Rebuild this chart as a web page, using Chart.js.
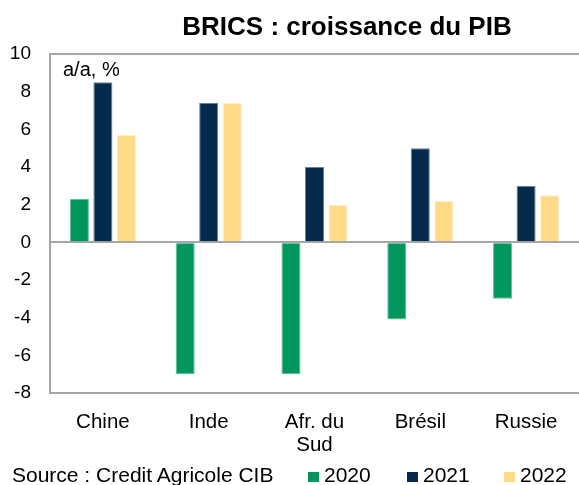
<!DOCTYPE html>
<html>
<head>
<meta charset="utf-8">
<script src="https://cdn.jsdelivr.net/npm/chart.js@4"></script>
<style>
  body { margin: 0; background: #fff; font-family: "Liberation Sans", Arial, sans-serif; }
  #wrap { position: relative; width: 579px; height: 485px; overflow: hidden; }
  #title { position: absolute; left: 347px; top: 13px; transform: translateX(-50%); white-space: nowrap;
           font-size: 26px; font-weight: bold; line-height: 1; color: #000; }
  #unit { position: absolute; left: 63px; top: 59px; font-size: 20px; line-height: 1; color: #000; }
  #source { position: absolute; left: 12px; top: 464px; font-size: 21px; line-height: 1; color: #000; white-space: nowrap; }
  .leg { position: absolute; top: 464px; font-size: 21px; line-height: 1; color: #000; white-space: nowrap; }
  .leg i { position: absolute; left: -16px; top: 8px; width: 11px; height: 10px; }
</style>
</head>
<body>
<div id="wrap">
  <canvas id="chart" width="579" height="485"></canvas>
  <div id="title">BRICS : croissance du PIB</div>
  <div id="unit">a/a, %</div>
  <div id="source">Source : Credit Agricole CIB</div>
  <div id="legend"></div>
</div>
<script>
const categories = ["Chine", "Inde", ["Afr. du", "Sud"], "Brésil", "Russie"];
const years = ["2020", "2021", "2022"];
const growth2020 = [2.3, -7.0, -7.0, -4.1, -3.0];
const growth2021 = [8.5, 7.4, 4.0, 5.0, 3.0];
const growth2022 = [5.7, 7.4, 2.0, 2.2, 2.5];
const yTicks = [-8, -6, -4, -2, 0, 2, 4, 6, 8, 10];

const colors = ["#00965E", "#062A4B", "#FFDA87"];
const edges = ["#5fc093", "#6b829a", "#fff0cc"];
const legendX = [324, 423, 520];

const gray = "#A6A6A6";

const series = [growth2020, growth2021, growth2022];

const chart = new Chart(document.getElementById("chart"), {
  type: "bar",
  data: {
    labels: categories,
    datasets: years.map((y, i) => ({
      label: y,
      data: series[i],
      backgroundColor: colors[i],
      borderColor: edges[i],
      borderWidth: 1,
      barPercentage: 0.81,
      categoryPercentage: 0.667,
    })),
  },
  options: {
    responsive: false,
    animation: false,
    layout: { padding: { top: 54, right: 0, bottom: 22, left: 0 } },
    plugins: {
      legend: { display: false },
      tooltip: { enabled: false },
    },
    scales: {
      x: {
        grid: { display: false },
        border: { display: true, color: gray, width: 2 },
        ticks: {
          color: "#000",
          padding: 10,
          maxRotation: 0,
          autoSkip: false,
          font: { family: "Liberation Sans", size: 20.5, lineHeight: 1.12 },
        },
        afterFit: (scale) => { scale.height = 70; },
      },
      y: {
        min: -8,
        max: 10,
        afterBuildTicks: (scale) => { scale.ticks = yTicks.map((v) => ({ value: v })); },
        grid: {
          drawTicks: false,
          lineWidth: 2,
          color: (ctx) => (ctx.tick && (ctx.tick.value === 0 || ctx.tick.value === 10) ? gray : "rgba(0,0,0,0)"),
        },
        border: { display: true, color: gray, width: 2 },
        ticks: {
          color: "#000",
          padding: 19,
          font: { family: "Liberation Sans", size: 19 },
        },
        afterFit: (scale) => { scale.width = 50; },
      },
    },
  },
});

// html legend built from the datasets
const legend = document.getElementById("legend");
chart.data.datasets.forEach((ds, i) => {
  const item = document.createElement("div");
  item.className = "leg";
  item.style.left = legendX[i] + "px";
  item.innerHTML = '<i style="background:' + ds.backgroundColor + '"></i>' + ds.label;
  legend.appendChild(item);
});
</script>
</body>
</html>
